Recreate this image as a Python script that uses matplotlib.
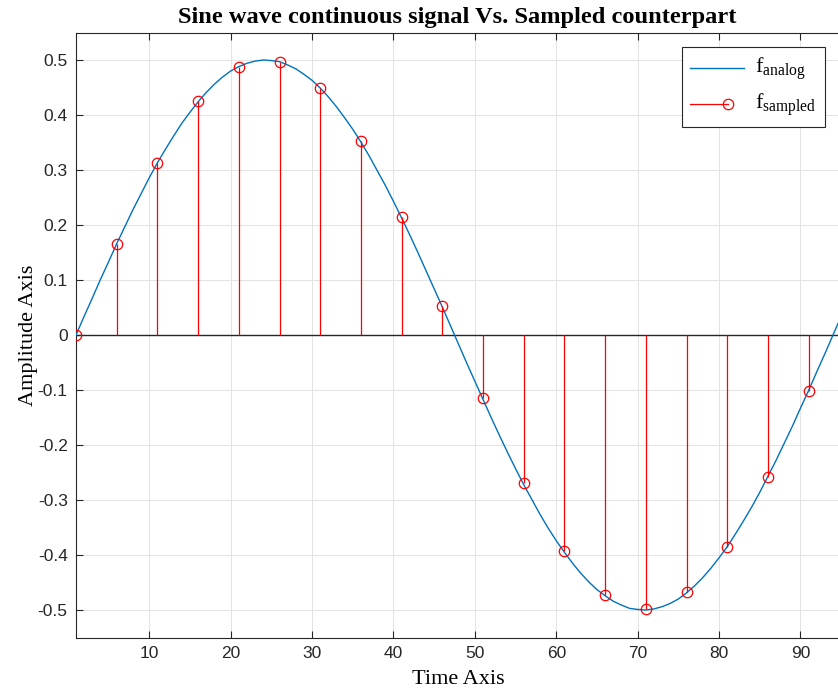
import matplotlib
matplotlib.use("Agg")
import matplotlib.pyplot as plt
from matplotlib.lines import Line2D
from matplotlib.legend_handler import HandlerBase

# continuous signal, read at every integer time step (t = 1 .. 96)
t_analog = list(range(1, 97))
f_analog = [
    0.000, 0.034, 0.067, 0.101, 0.133, 0.166, 0.197, 0.228, 0.257, 0.286,
    0.313, 0.338, 0.362, 0.385, 0.405, 0.424, 0.441, 0.456, 0.469, 0.480,
    0.488, 0.494, 0.498, 0.500, 0.499, 0.497, 0.491, 0.484, 0.474, 0.463,
    0.449, 0.433, 0.415, 0.395, 0.374, 0.351, 0.326, 0.299, 0.272, 0.243,
    0.213, 0.182, 0.150, 0.117, 0.084, 0.051, 0.017,
    -0.017, -0.051, -0.084, -0.117, -0.150, -0.182, -0.213, -0.243, -0.272,
    -0.299, -0.326, -0.351, -0.374, -0.395, -0.415, -0.433, -0.449, -0.463,
    -0.474, -0.484, -0.491, -0.497, -0.499, -0.500, -0.498, -0.494, -0.488,
    -0.480, -0.469, -0.456, -0.441, -0.424, -0.405, -0.385, -0.362, -0.338,
    -0.313, -0.286, -0.257, -0.228, -0.197, -0.166, -0.133, -0.101, -0.067,
    -0.034, 0.000, 0.034, 0.067,
]

# sampled points
t_sampled = [1, 6, 11, 16, 21, 26, 31, 36, 41, 46, 51, 56, 61, 66, 71, 76, 81, 86, 91]
f_sampled = [0.000, 0.166, 0.312, 0.425, 0.487, 0.497, 0.449, 0.352, 0.214, 0.052,
             -0.114, -0.269, -0.392, -0.473, -0.499, -0.468, -0.385, -0.258, -0.101]

x_ticks = [10, 20, 30, 40, 50, 60, 70, 80, 90]
y_ticks = [-0.5, -0.4, -0.3, -0.2, -0.1, 0, 0.1, 0.2, 0.3, 0.4, 0.5]

BLUE = "#0072BD"
RED = "#FF0000"
DARK = "#262626"

plt.rcParams["mathtext.fontset"] = "custom"
plt.rcParams["mathtext.rm"] = "Liberation Serif"
plt.rcParams["mathtext.it"] = "Liberation Serif:italic"

LEG_YSHIFT = -2.0  # points, nudges the handles down to line up like MATLAB's legend


class LineHandler(HandlerBase):
    def create_artists(self, legend, orig_handle, xdescent, ydescent,
                       width, height, fontsize, trans):
        y = (height - ydescent) / 2 + LEG_YSHIFT
        line = Line2D([-xdescent, -xdescent + width], [y, y], color=BLUE, lw=1.0)
        line.set_transform(trans)
        return [line]


class StemHandler(HandlerBase):
    # MATLAB-like stem legend entry: line with the marker near its right end
    def create_artists(self, legend, orig_handle, xdescent, ydescent,
                       width, height, fontsize, trans):
        y = (height - ydescent) / 2 + LEG_YSHIFT
        x0 = -xdescent
        x1 = -xdescent + width * 0.7
        line = Line2D([x0, x1], [y, y], color=RED, lw=0.9)
        mk = Line2D([x1], [y], marker="o", mfc="none", mec=RED, ms=7.5, mew=0.9, ls="none")
        line.set_transform(trans)
        mk.set_transform(trans)
        return [line, mk]


fig = plt.figure(figsize=(8.38, 6.93), dpi=100)
px_per_unit = 8.14
left_px, bottom_px, top_px = 76, 637.5, 32.5
xmin, xmax = 1, 96
ax = fig.add_axes([left_px / 838, 1 - bottom_px / 693,
                   (xmax - xmin) * px_per_unit / 838, (bottom_px - top_px) / 693])

ax.grid(True, color="#e3e3e3", lw=0.7)
ax.set_axisbelow(True)

analog_line, = ax.plot(t_analog, f_analog, color=BLUE, lw=1.0, zorder=3)
ax.axhline(0, color=DARK, lw=1.0, zorder=2)
ax.vlines(t_sampled, 0, f_sampled, color=RED, lw=0.9, zorder=4)
ax.plot(t_sampled, f_sampled, ls="none", marker="o", mfc="none", mec=RED,
        ms=7.5, mew=0.9, zorder=5)

ax.set_xlim(xmin, xmax)
ax.set_ylim(-0.55, 0.55)
ax.set_xticks(x_ticks)
ax.set_yticks(y_ticks)
ax.set_xticklabels([str(v) for v in x_ticks])
ax.set_yticklabels(["{:g}".format(v) for v in y_ticks])
ax.tick_params(direction="in", length=5, width=0.8, colors=DARK, labelsize=12.5,
               top=True, right=True, pad=6)
for lbl in ax.get_xticklabels() + ax.get_yticklabels():
    lbl.set_fontfamily("Liberation Sans")
for s in ax.spines.values():
    s.set_color(DARK)
    s.set_linewidth(0.8)

fig.text(457.5 / 838, 1 - 17 / 693, "Sine wave continuous signal Vs. Sampled counterpart",
         fontfamily="Liberation Serif", fontweight="bold", fontsize=17.6,
         ha="center", va="center")
fig.text(458 / 838, 1 - 680 / 693, "Time Axis", fontfamily="Liberation Serif",
         fontsize=16, ha="center", va="center")
fig.text(29 / 838, 1 - 335 / 693, "Amplitude Axis", fontfamily="Liberation Serif",
         fontsize=16, ha="center", va="center", rotation=90)

analog_proxy = Line2D([], [], color=BLUE)
stem_proxy = Line2D([], [], color=RED)
leg = ax.legend([analog_proxy, stem_proxy],
                [r"f$_{\mathrm{analog}}$", r"f$_{\mathrm{sampled}}$"],
                handler_map={analog_proxy: LineHandler(), stem_proxy: StemHandler()},
                loc="upper right", bbox_to_anchor=(825 / 838, 1 - 47 / 693),
                bbox_transform=fig.transFigure, borderaxespad=0,
                prop={"family": "Liberation Serif", "size": 16},
                fancybox=False, framealpha=1, edgecolor=DARK,
                handlelength=2.4, handletextpad=0.5, labelspacing=0.4,
                borderpad=0.4)
leg.get_frame().set_linewidth(0.8)

fig.savefig("out.png", dpi=100)
